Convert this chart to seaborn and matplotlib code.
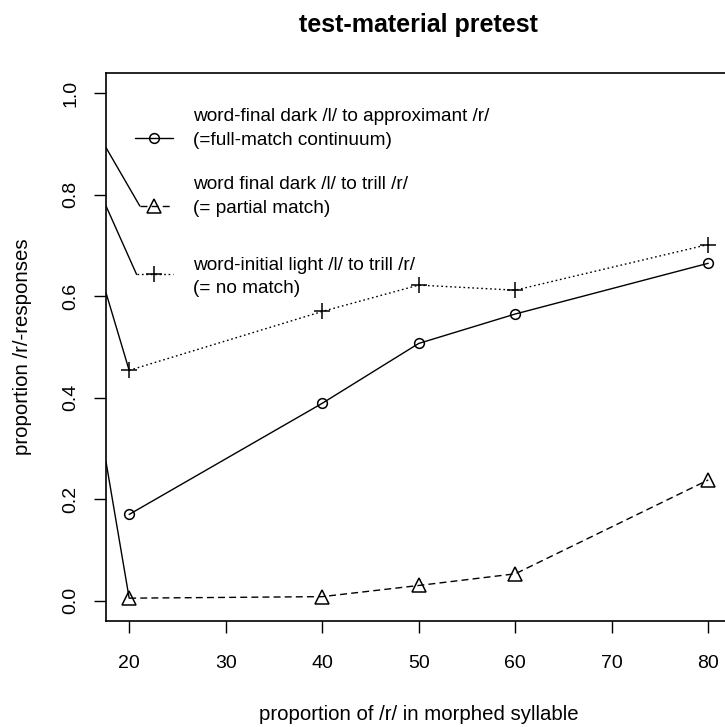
##### imports #####
import matplotlib
matplotlib.use("Agg")
import pandas as pd
import matplotlib.pyplot as plt
import seaborn as sns

##### data #####
morph_steps = [20, 40, 50, 60, 80]
full_match = [0.170, 0.389, 0.507, 0.565, 0.665]
partial_match = [0.005, 0.008, 0.030, 0.053, 0.238]
no_match = [0.454, 0.570, 0.622, 0.612, 0.702]

series_names = ["full", "partial", "none"]
legend_lines = [
    "word-final dark /l/ to approximant /r/\n(=full-match continuum)",
    "word final dark /l/ to trill /r/\n(= partial match)",
    "word-initial light /l/ to trill /r/\n(= no match)",
]

# odd connector strokes running in from the left edge of the panel
leader_x0 = [17.6, 17.6, 17.6, 17.6]
leader_y0 = [0.893, 0.778, 0.607, 0.274]
leader_x1 = [21.1, 20.77, 20.0, 20.0]
leader_y1 = [0.778, 0.643, 0.454, 0.005]

# legend key positions (data units)
key_x0 = [20.6, 21.1, 20.77]
key_x1 = [24.5, 24.5, 24.5]
key_mid = [22.56, 22.56, 22.56]
key_y = [0.912, 0.778, 0.644]
key_text_x = 26.6
key_text_y = [0.931, 0.797, 0.638]

xticks = [20, 30, 40, 50, 60, 70, 80]
yticks = [0.0, 0.2, 0.4, 0.6, 0.8, 1.0]


def main():
    sns.set_style("ticks")
    plt.rcParams["font.family"] = ["Liberation Sans", "DejaVu Sans"]
    for key in ["text.color", "axes.labelcolor", "xtick.color", "ytick.color",
                "axes.edgecolor"]:
        plt.rcParams[key] = "black"

    df = pd.DataFrame({
        "morph": morph_steps * 3,
        "resp": full_match + partial_match + no_match,
        "series": [s for s in series_names for _ in morph_steps],
    })

    styles = {
        "full": dict(marker="o", ms=7, ls="-"),
        "partial": dict(marker="^", ms=10, ls=(0, (5, 3))),
        "none": dict(marker="+", ms=12, ls=(0, (1.2, 2.0))),
    }

    fig = plt.figure(figsize=(7.25, 7.27), dpi=100)
    ax = fig.add_axes([106 / 725, 106 / 727, 625.4 / 725, 548 / 727])

    for name in series_names:
        st = styles[name]
        sub = df[df["series"] == name]
        sns.lineplot(data=sub, x="morph", y="resp", ax=ax, color="black",
                     lw=1, linestyle=st["ls"], marker=st["marker"],
                     markersize=st["ms"], markerfacecolor="none",
                     markeredgecolor="black", markeredgewidth=1.1)

    # leader strokes
    for x0, y0, x1, y1 in zip(leader_x0, leader_y0, leader_x1, leader_y1):
        ax.plot([x0, x1], [y0, y1], color="black", lw=1)

    # hand-drawn legend
    for i, name in enumerate(series_names):
        st = styles[name]
        ax.plot([key_x0[i], key_x1[i]], [key_y[i], key_y[i]], color="black",
                lw=1, linestyle=st["ls"])
        ax.plot([key_mid[i]], [key_y[i]], color="black", marker=st["marker"],
                ms=st["ms"], mfc="none", mec="black", mew=1.1, ls="none")
        ax.text(key_text_x, key_text_y[i], legend_lines[i], fontsize=13.7,
                va="center", ha="left", linespacing=1.5)

    ax.set_xlim(17.6, 82.4)
    ax.set_ylim(-0.04, 1.04)
    ax.set_xticks(xticks)
    ax.set_yticks(yticks)
    ax.set_xticklabels([str(t) for t in xticks])
    ax.set_yticklabels(["%.1f" % t for t in yticks])
    ax.tick_params(axis="both", direction="out", length=8.4, width=1,
                   labelsize=14, color="black", labelcolor="black")
    ax.tick_params(axis="x", pad=16)
    ax.tick_params(axis="y", pad=11, labelrotation=90)
    for lab in ax.get_yticklabels():
        lab.set_va("center")

    for sp in ax.spines.values():
        sp.set_visible(True)
        sp.set_color("black")
        sp.set_linewidth(1.2)

    ax.set_xlabel("proportion of /r/ in morphed syllable", fontsize=14.7,
                  va="center")
    ax.xaxis.set_label_coords(0.5, -0.1715)
    ax.set_ylabel("proportion /r/-responses", fontsize=14.7, va="center")
    ax.yaxis.set_label_coords(-0.133, 0.5)

    fig.text(418.7 / 725, 1 - 25 / 727, "test-material pretest",
             fontsize=18, fontweight="bold", ha="center", va="center")

    fig.savefig("out.png", dpi=100)


if __name__ == "__main__":
    main()
